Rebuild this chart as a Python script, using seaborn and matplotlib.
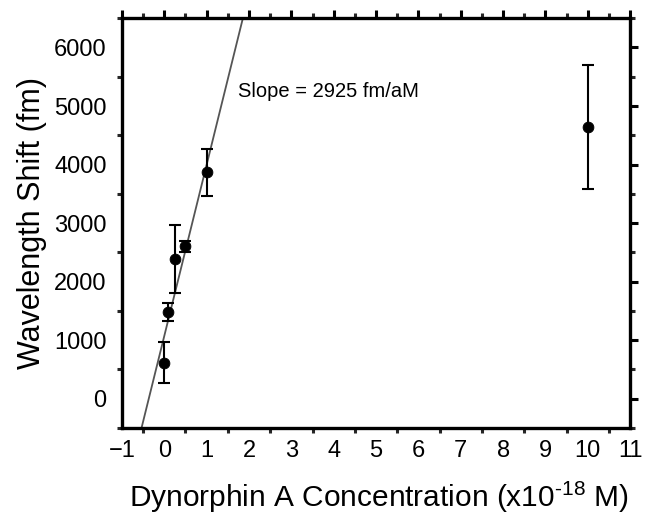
import matplotlib
matplotlib.use("Agg")
import matplotlib.pyplot as plt
import seaborn as sns
import numpy as np
import pandas as pd
from matplotlib.ticker import MultipleLocator

# Data
conc = [0.0, 0.1, 0.25, 0.5, 1.0, 10.0]
shift = [610, 1480, 2390, 2600, 3870, 4640]
err = [350, 160, 580, 100, 400, 1060]
slope = 2925
intercept = 1070
fit_x = [-0.6, 2.0]
slope_label = "Slope = 2925 fm/aM"

sns.set_theme(style="white")
plt.rcParams['font.family'] = ['Liberation Sans', 'DejaVu Sans']
plt.rcParams['text.color'] = 'black'
plt.rcParams['axes.labelcolor'] = 'black'
plt.rcParams['mathtext.fontset'] = 'custom'
plt.rcParams['mathtext.rm'] = 'Liberation Sans'

fig = plt.figure(figsize=(6.45, 5.2), dpi=100)
ax = fig.add_axes([0.189, 0.177, 0.788, 0.788])

df = pd.DataFrame({"x": conc, "y": shift})
fit_df = pd.DataFrame({"x": fit_x, "y": [slope * v + intercept for v in fit_x]})

sns.lineplot(data=fit_df, x="x", y="y", ax=ax, color="#555555", linewidth=1.3)
ax.errorbar(conc, shift, yerr=err, fmt="none", ecolor="black", elinewidth=1.5,
            capsize=4.5, capthick=1.5, zorder=3)
sns.scatterplot(data=df, x="x", y="y", ax=ax, color="black", s=60,
                edgecolor="black", zorder=4)

ax.text(1.73, 5240, slope_label, fontsize=14.5, va="center", ha="left", color="black")

ax.set_xlim(-1, 11)
ax.set_ylim(-500, 6500)
ax.xaxis.set_major_locator(MultipleLocator(1))
ax.xaxis.set_minor_locator(MultipleLocator(0.5))
ax.yaxis.set_major_locator(MultipleLocator(1000))
ax.yaxis.set_minor_locator(MultipleLocator(500))
ax.set_xticks(range(-1, 12))
ax.set_xticklabels([str(v).replace('-', '\u2212') for v in range(-1, 12)])

ax.tick_params(which="major", direction="out", length=6, width=2.2,
               top=True, right=True, labeltop=False, labelright=False,
               labelsize=17, colors="black")
ax.tick_params(axis="y", which="major", pad=5)
ax.tick_params(axis="x", which="major", pad=3)
ax.tick_params(which="minor", direction="out", length=3.5, width=2.2,
               top=True, right=True, bottom=True, left=True)
for s in ax.spines.values():
    s.set_linewidth(2.4)
    s.set_color("black")

ax.set_xlabel("Dynorphin A Concentration (x10$^{\\text{-18}}$ M)", fontsize=21.5,
              color="black")
ax.xaxis.set_label_coords(0.505, -0.125)
ax.set_ylabel("Wavelength Shift (fm)", fontsize=22, labelpad=5, color="black")

fig.savefig("out.png", dpi=100)
